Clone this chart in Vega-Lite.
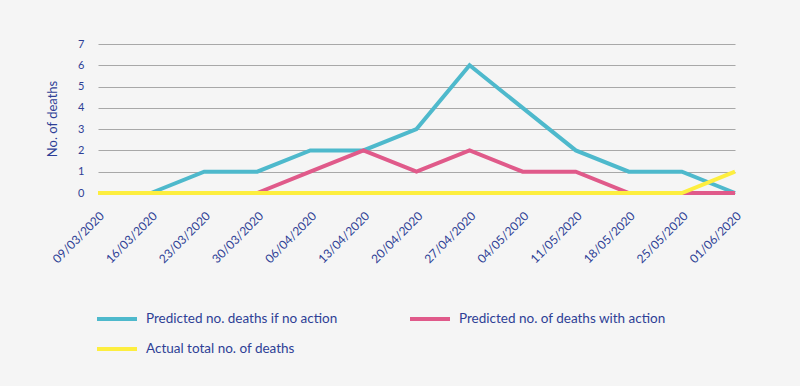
{
  "$schema": "https://vega.github.io/schema/vega-lite/v6.json",
  "width": 637,
  "height": 149,
  "autosize": {"type": "none"},
  "padding": {"left": 98, "top": 44, "right": 65, "bottom": 193},
  "background": "#f5f5f5",
  "config": {
    "view": {"stroke": null},
    "font": "Lato",
    "axis": {"labelColor": "#2e3f96", "titleColor": "#2e3f96", "labelFont": "Lato", "titleFont": "Lato"},
    "legend": {"labelColor": "#2e3f96", "labelFont": "Lato"}
  },
  "data": {
    "values": [
      {"date": "16/03/2020", "series": "Predicted no. deaths if no action", "value": 0},
      {"date": "23/03/2020", "series": "Predicted no. deaths if no action", "value": 1},
      {"date": "30/03/2020", "series": "Predicted no. deaths if no action", "value": 1},
      {"date": "06/04/2020", "series": "Predicted no. deaths if no action", "value": 2},
      {"date": "13/04/2020", "series": "Predicted no. deaths if no action", "value": 2},
      {"date": "20/04/2020", "series": "Predicted no. deaths if no action", "value": 3},
      {"date": "27/04/2020", "series": "Predicted no. deaths if no action", "value": 6},
      {"date": "04/05/2020", "series": "Predicted no. deaths if no action", "value": 4},
      {"date": "11/05/2020", "series": "Predicted no. deaths if no action", "value": 2},
      {"date": "18/05/2020", "series": "Predicted no. deaths if no action", "value": 1},
      {"date": "25/05/2020", "series": "Predicted no. deaths if no action", "value": 1},
      {"date": "01/06/2020", "series": "Predicted no. deaths if no action", "value": 0},
      {"date": "30/03/2020", "series": "Predicted no. of deaths with action", "value": 0},
      {"date": "06/04/2020", "series": "Predicted no. of deaths with action", "value": 1},
      {"date": "13/04/2020", "series": "Predicted no. of deaths with action", "value": 2},
      {"date": "20/04/2020", "series": "Predicted no. of deaths with action", "value": 1},
      {"date": "27/04/2020", "series": "Predicted no. of deaths with action", "value": 2},
      {"date": "04/05/2020", "series": "Predicted no. of deaths with action", "value": 1},
      {"date": "11/05/2020", "series": "Predicted no. of deaths with action", "value": 1},
      {"date": "18/05/2020", "series": "Predicted no. of deaths with action", "value": 0},
      {"date": "25/05/2020", "series": "Predicted no. of deaths with action", "value": 0},
      {"date": "01/06/2020", "series": "Predicted no. of deaths with action", "value": 0},
      {"date": "09/03/2020", "series": "Actual total no. of deaths", "value": 0},
      {"date": "16/03/2020", "series": "Actual total no. of deaths", "value": 0},
      {"date": "23/03/2020", "series": "Actual total no. of deaths", "value": 0},
      {"date": "30/03/2020", "series": "Actual total no. of deaths", "value": 0},
      {"date": "06/04/2020", "series": "Actual total no. of deaths", "value": 0},
      {"date": "13/04/2020", "series": "Actual total no. of deaths", "value": 0},
      {"date": "20/04/2020", "series": "Actual total no. of deaths", "value": 0},
      {"date": "27/04/2020", "series": "Actual total no. of deaths", "value": 0},
      {"date": "04/05/2020", "series": "Actual total no. of deaths", "value": 0},
      {"date": "11/05/2020", "series": "Actual total no. of deaths", "value": 0},
      {"date": "18/05/2020", "series": "Actual total no. of deaths", "value": 0},
      {"date": "25/05/2020", "series": "Actual total no. of deaths", "value": 0},
      {"date": "01/06/2020", "series": "Actual total no. of deaths", "value": 1}
    ]
  },
  "mark": {"type": "line", "strokeWidth": 4, "strokeJoin": "miter", "clip": false},
  "encoding": {
    "x": {
      "field": "date",
      "type": "ordinal",
      "scale": {
        "type": "point",
        "padding": 0,
        "domain": ["09/03/2020", "16/03/2020", "23/03/2020", "30/03/2020", "06/04/2020", "13/04/2020", "20/04/2020", "27/04/2020", "04/05/2020", "11/05/2020", "18/05/2020", "25/05/2020", "01/06/2020"]
      },
      "axis": {
        "title": null,
        "labelAngle": -45,
        "labelFontSize": 12,
        "labelPadding": 17,
        "ticks": false,
        "domain": false,
        "grid": false
      }
    },
    "y": {
      "field": "value",
      "type": "quantitative",
      "scale": {"domain": [0, 7], "nice": false},
      "axis": {
        "title": "No. of deaths",
        "titleFontSize": 13,
        "titleFontWeight": "normal",
        "titlePadding": 18,
        "values": [0, 1, 2, 3, 4, 5, 6, 7],
        "labelFontSize": 11,
        "labelPadding": 14,
        "ticks": false,
        "domain": false,
        "grid": true,
        "gridColor": "#a8a8a8",
        "gridWidth": 1.2
      }
    },
    "color": {
      "field": "series",
      "type": "nominal",
      "scale": {
        "domain": ["Predicted no. deaths if no action", "Predicted no. of deaths with action", "Actual total no. of deaths"],
        "range": ["#4eb9cc", "#e05a8a", "#fdee3f"]
      },
      "legend": {
        "title": null,
        "orient": "none",
        "legendX": -3,
        "legendY": 253,
        "direction": "horizontal",
        "columns": 2,
        "columnPadding": 64,
        "rowPadding": -10,
        "symbolType": "stroke",
        "symbolSize": 1600,
        "symbolStrokeWidth": 4,
        "labelFontSize": 13.5,
        "labelOffset": 7,
        "labelLimit": 0
      }
    }
  }
}
